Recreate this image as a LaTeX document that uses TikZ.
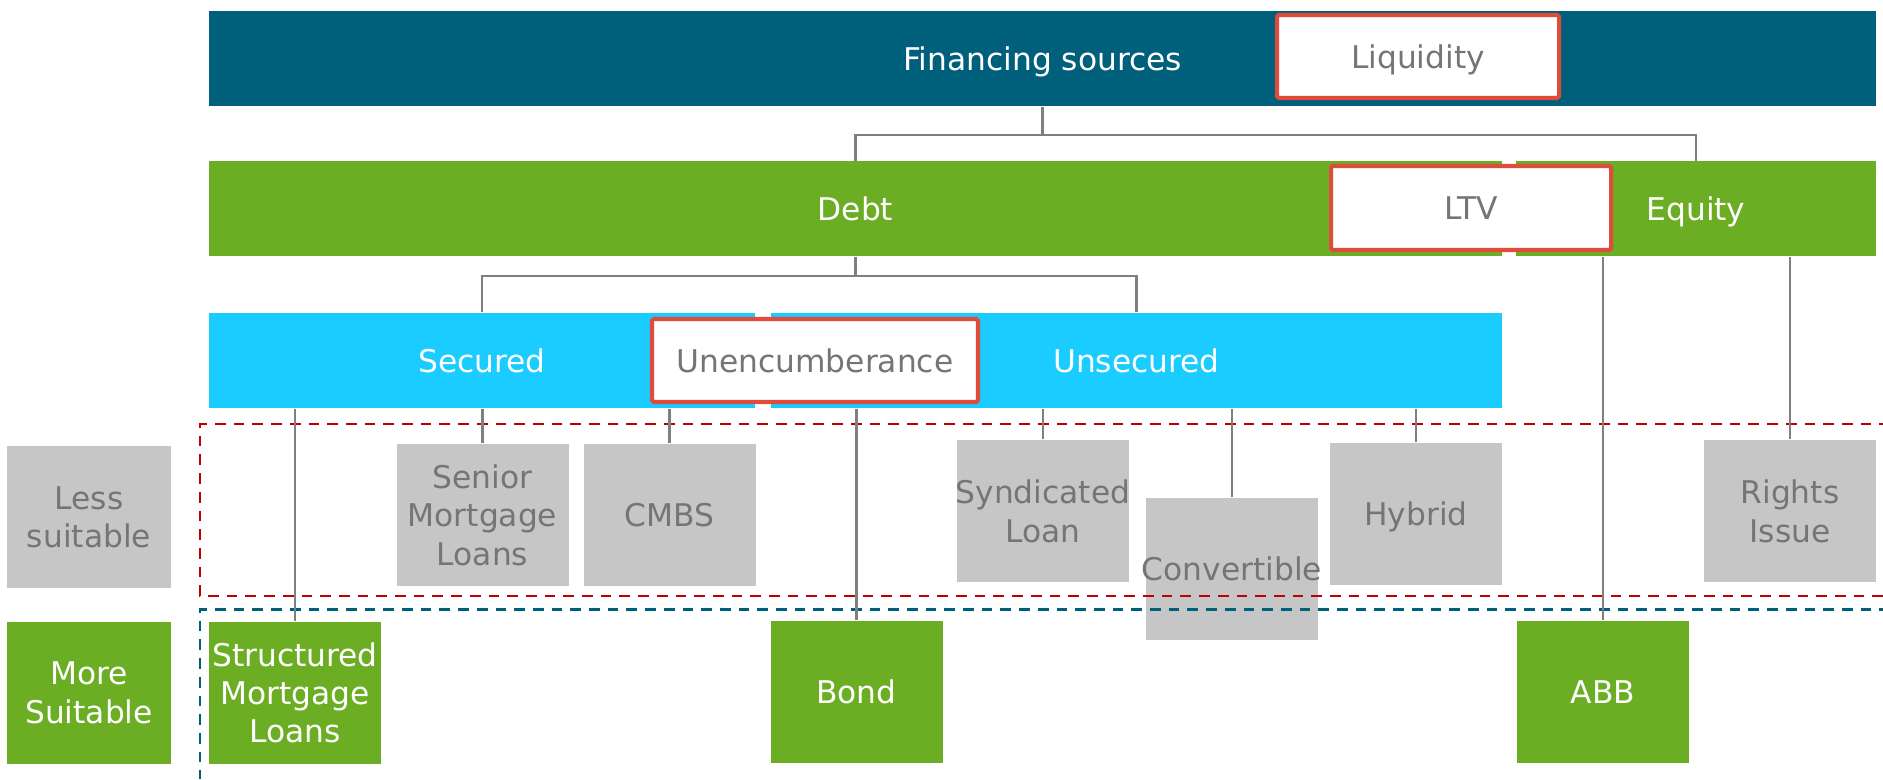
\documentclass[tikz,border=0pt]{standalone}
\usepackage{fontspec}
\setmainfont{DejaVu Sans}
\usepackage{xcolor}
\usepackage{tikz}

\definecolor{srcblue}{RGB}{0,95,122}
\definecolor{debtgreen}{RGB}{107,174,35}
\definecolor{seccyan}{RGB}{26,204,255}
\definecolor{leafgray}{RGB}{198,198,198}
\definecolor{textgray}{RGB}{117,117,117}
\definecolor{linkgray}{RGB}{127,127,127}
\definecolor{flagred}{RGB}{224,76,60}
\definecolor{zonered}{RGB}{192,0,0}

\begin{document}
\begin{tikzpicture}[
  font=\fontsize{8.9}{10.9}\selectfont,
  bar/.style={inner sep=0pt, minimum height=9.5mm, text=white, text depth=0pt},
  leaf/.style={inner sep=0pt, minimum width=17.2mm, minimum height=14.2mm,
               align=center, text depth=0pt},
  soft leaf/.style={leaf, fill=leafgray, text=textgray},
  good leaf/.style={leaf, fill=debtgreen, text=white},
  flag/.style={draw=flagred, line width=1.15pt, fill=white, text=textgray,
               inner sep=0pt, minimum height=8.3mm, rounded corners=0.5pt,
               text depth=0pt},
  link/.style={draw=linkgray, line width=0.6pt},
  zone/.style={line width=0.85pt, dash pattern=on 1.07mm off 0.8mm},
]
\useasboundingbox (0,0) rectangle (18.83,7.79);

% === Top: financing sources ===
\node[bar, fill=srcblue, minimum width=166.7mm] (fin) at (10.425, 7.205)
  {Financing sources};
\node[flag, minimum width=28.2mm] (liq) at (14.18, 7.225) {Liquidity};

% === Debt / Equity ===
\node[bar, fill=debtgreen, minimum width=129.3mm] (debt) at (8.555, 5.70) {Debt};
\node[bar, fill=debtgreen, minimum width=36mm] (equity) at (16.96, 5.70) {Equity};
\node[flag, minimum width=28.0mm, minimum height=8.4mm] (ltv) at (14.71, 5.71) {LTV};

% === Secured / Unsecured ===
\node[bar, fill=seccyan, minimum width=54.6mm] (secured) at (4.82, 4.185) {Secured};
\node[bar, fill=seccyan, minimum width=73.1mm] (unsecured) at (11.365, 4.185)
  {Unsecured};
\node[flag, minimum width=32.6mm] (unenc) at (8.15, 4.185) {Unencumberance};

% === Legend ===
\node[soft leaf, minimum width=16.4mm] (less) at (0.89, 2.62) {Less\\suitable};
\node[good leaf, minimum width=16.4mm] (more) at (0.89, 0.865) {More\\Suitable};

% === Instruments ===
\node[good leaf] (sml) at (2.95, 0.865) {Structured\\Mortgage\\Loans};
\node[soft leaf] (senior) at (4.825, 2.64) {Senior\\Mortgage\\Loans};
\node[soft leaf] (cmbs) at (6.695, 2.64) {CMBS};
\node[good leaf] (bond) at (8.565, 0.87) {Bond};
\node[soft leaf] (synd) at (10.43, 2.68) {\makebox[0pt]{Syndicated}\\Loan};
\node[soft leaf] (conv) at (12.32, 2.10) {\makebox[0pt]{Convertible}};
\node[soft leaf] (hybrid) at (14.16, 2.65) {Hybrid};
\node[good leaf] (abb) at (16.03, 0.87) {ABB};
\node[soft leaf] (rights) at (17.90, 2.68) {Rights\\ Issue};

% suitability zones
\draw[zone, zonered] (18.9, 3.55) -- (2.00, 3.55) -- (2.00, 1.83) -- (18.9, 1.83);
\draw[zone, srcblue] (18.9, 1.70) -- (2.00, 1.70) -- (2.00, 0);

% === Connectors ===
\draw[link] (fin.south) -- ++(0,-0.28) -| (debt.north);
\draw[link] (fin.south) -- ++(0,-0.28) -| (equity.north);
\draw[link] (debt.south) -- ++(0,-0.19) -| (secured.north);
\draw[link] (debt.south) -- ++(0,-0.19) -| (unsecured.north);
\foreach \n/\p in {sml/secured, senior/secured, cmbs/secured,
                   bond/unsecured, synd/unsecured, conv/unsecured,
                   hybrid/unsecured, abb/equity, rights/equity} {
  \draw[link] (\n.north) -- (\n.north |- \p.south);
}

\end{tikzpicture}
\end{document}
